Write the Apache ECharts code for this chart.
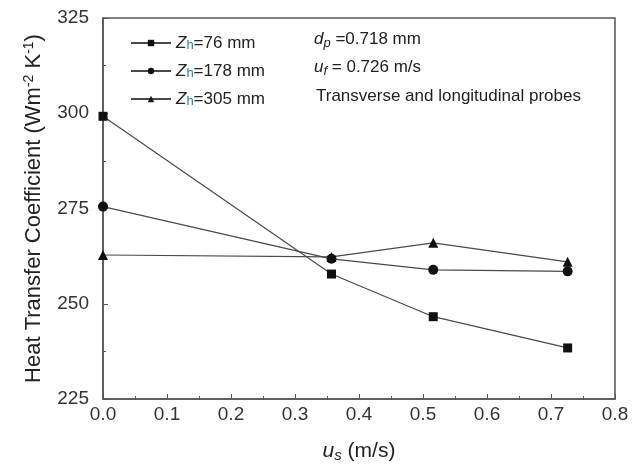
<!DOCTYPE html>
<html>
<head>
<meta charset="utf-8">
<script src="https://cdn.jsdelivr.net/npm/echarts@6/dist/echarts.min.js"></script>
<style>html,body{margin:0;padding:0;background:#fff}#c{width:635px;height:465px}</style>
</head>
<body>
<div id="c"></div>
<script>
var xValues = [0, 0.357, 0.516, 0.726];
var h76 = [299.2, 257.8, 246.6, 238.4];
var h178 = [275.5, 261.8, 258.9, 258.5];
var h305 = [262.8, 262.3, 266.0, 261.0];
var seriesNames = ['Zh76', 'Zh178', 'Zh305'];
var legendLabels = {Zh76: '{i|Z}{sub|h}=76 mm', Zh178: '{i|Z}{sub|h}=178 mm', Zh305: '{i|Z}{sub|h}=305 mm'};
var xTicks = {min: 0, max: 0.8, interval: 0.1};
var yTicks = {min: 225, max: 325, interval: 25};

function pairs(ys){ return xValues.map(function(x,i){ return [x, ys[i]]; }); }

var chart = echarts.init(document.getElementById('c'), null, {renderer:'canvas'});
var FONT = 'Liberation Sans, Arial, sans-serif';
var lineCol = '#4a4a4a';
var mk = '#111';
function mkSeries(name, data, symbol, size){
  return {
    name: name, type: 'line', data: pairs(data), symbol: symbol, symbolSize: size,
    lineStyle: {color: lineCol, width: 1.2},
    itemStyle: {color: mk},
    emphasis: {disabled: true}, animation: false
  };
}
var richLeg = {
  i: {fontStyle: 'italic', fontSize: 17, fontFamily: FONT, color: '#222', lineHeight: 18},
  sub: {fontSize: 13, fontFamily: FONT, color: '#2a7fa0', verticalAlign: 'bottom', padding: [8,0,0,0]}
};
var richSub = {
  i: {fontStyle: 'italic', fontSize: 17, fontFamily: FONT},
  sub: {fontStyle: 'italic', fontSize: 13, fontFamily: FONT, verticalAlign: 'bottom', padding: [8,0,0,0]}
};
chart.setOption({
  animation: false,
  grid: {left: 103, right: 20, top: 18, bottom: 66, outerBoundsMode: 'none', containLabel: false, show: true, borderColor: '#555', borderWidth: 1.5, backgroundColor: 'transparent'},
  legend: {
    orient: 'vertical', left: 125, top: 29, itemGap: 10, itemWidth: 40, itemHeight: 8,
    data: seriesNames,
    formatter: function(n){ return legendLabels[n]; },
    textStyle: {fontSize: 17, fontFamily: FONT, color: '#222', lineHeight: 18, rich: richLeg},
    selectedMode: false
  },
  xAxis: {
    type: 'value', min: xTicks.min, max: xTicks.max, interval: xTicks.interval,
    axisLine: {show: true, lineStyle: {color: '#555', width: 1.5}},
    axisTick: {show: true, inside: true, length: 5, lineStyle: {color: '#555'}},
    minorTick: {show: true, splitNumber: 2, length: 3, lineStyle: {color: '#555'}},
    splitLine: {show: false},
    axisLabel: {fontSize: 19, fontFamily: FONT, color: '#333', margin: 6, formatter: function(v){ return v.toFixed(1); }},
    name: '{i|u}{sub|s} (m/s)', nameLocation: 'middle', nameGap: 40,
    nameTextStyle: {fontSize: 21, fontFamily: FONT, color: '#222', rich: {
      i: {fontStyle: 'italic', fontSize: 21, fontFamily: FONT, color: '#222'},
      sub: {fontStyle: 'italic', fontSize: 15, fontFamily: FONT, color: '#222', verticalAlign: 'bottom', padding: [9,0,0,0]}
    }}
  },
  yAxis: {
    type: 'value', min: yTicks.min, max: yTicks.max, interval: yTicks.interval,
    axisLine: {show: true, lineStyle: {color: '#555', width: 1.5}},
    axisTick: {show: true, inside: true, length: 5, lineStyle: {color: '#555'}},
    minorTick: {show: true, splitNumber: 2, length: 3, lineStyle: {color: '#555'}},
    splitLine: {show: false},
    axisLabel: {fontSize: 19, fontFamily: FONT, color: '#333', margin: 14},
    name: 'Heat Transfer Coefficient (Wm{sup|-2} K{sup|-1})', nameLocation: 'middle', nameRotate: 90, nameGap: 58,
    nameTextStyle: {fontSize: 22, fontFamily: FONT, color: '#222', rich: {
      sup: {fontSize: 14, fontFamily: FONT, color: '#222', verticalAlign: 'top', padding: [0,0,9,0]}
    }}
  },
  graphic: [
    {type: 'text', left: 314, top: 31, style: {text: '{i|d}{sub|p} =0.718 mm', font: '17px ' + FONT, fill: '#222', rich: richSub}},
    {type: 'text', left: 314, top: 59, style: {text: '{i|u}{sub|f} = 0.726 m/s', font: '17px ' + FONT, fill: '#222', rich: richSub}},
    {type: 'text', left: 316, top: 88, style: {text: 'Transverse and longitudinal probes', font: '17px ' + FONT, fill: '#222'}}
  ],
  series: [
    mkSeries('Zh76', h76, 'rect', 9),
    mkSeries('Zh178', h178, 'circle', 10),
    mkSeries('Zh305', h305, 'triangle', 10)
  ]
});
</script>
</body>
</html>
